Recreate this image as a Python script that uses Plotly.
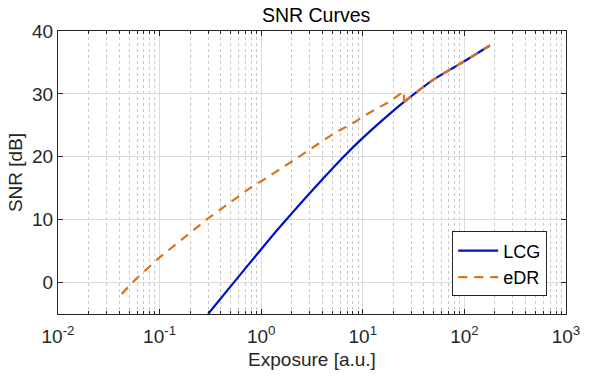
import plotly.graph_objects as go

# ---- data ----
lcg_exposure = [0.30, 0.50, 1.0, 1.48, 2.0, 3.0, 4.05, 6.3, 10, 19.9, 28.8, 50, 78.5, 100, 178]
lcg_snr = [-5.0, -0.6, 5.3, 8.6, 11.0, 14.2, 16.5, 19.8, 23.0, 27.3, 29.4, 32.3, 34.2, 35.2, 37.7]

# eDR: low-exposure branch (up to the switch point) and high-exposure branch
edr_low_exposure = [0.0424, 0.058, 0.10, 0.177, 0.30, 0.836, 1.0, 2.07, 5.06, 8.5, 10, 18.0, 25.4]
edr_low_snr = [-1.8, 0.5, 4.0, 7.2, 10.2, 15.4, 16.1, 19.4, 23.6, 25.6, 26.4, 28.7, 30.4]
edr_high_exposure = [25.4, 28.8, 50, 78.5, 100, 178]
edr_high_snr = [28.7, 29.4, 32.3, 34.2, 35.2, 37.7]

x_tick_vals = [0.01, 0.1, 1, 10, 100, 1000]
x_tick_text = ["10<sup>-2</sup>", "10<sup>-1</sup>", "10<sup>0</sup>",
               "10<sup>1</sup>", "10<sup>2</sup>", "10<sup>3</sup>"]
y_tick_vals = [0, 10, 20, 30, 40]

x_minor_vals = [m * 10 ** e for e in range(-2, 3) for m in range(2, 10)]

FONT = "Liberation Sans, Arial, sans-serif"
AX = "#262626"
ORANGE = "#D9731E"

fig = go.Figure()
fig.add_trace(go.Scatter(x=lcg_exposure, y=lcg_snr, mode="lines", name="LCG",
                         line=dict(color="#0010C8", width=2.2, shape="spline", smoothing=0.6)))
fig.add_trace(go.Scatter(x=edr_low_exposure + edr_high_exposure[:1],
                         y=edr_low_snr + edr_high_snr[:1], mode="lines", name="eDR",
                         legendgroup="edr",
                         line=dict(color=ORANGE, width=2.2, dash="9px,7px")))
fig.add_trace(go.Scatter(x=edr_high_exposure, y=edr_high_snr, mode="lines", name="eDR",
                         legendgroup="edr", showlegend=False,
                         line=dict(color=ORANGE, width=2.2, dash="9px,7px",
                                   shape="spline", smoothing=0.6)))

fig.update_layout(
    width=592, height=378,
    margin=dict(l=58, r=18, t=31, b=61),
    paper_bgcolor="white", plot_bgcolor="white",
    font=dict(family=FONT, size=18, color=AX),
    title=dict(text="SNR Curves", x=0.534, xanchor="center", y=0.978, yanchor="top",
               font=dict(family=FONT, size=19.5, color="black")),
    legend=dict(x=0.963, xanchor="right", y=0.062, yanchor="bottom",
                bgcolor="white", bordercolor="#262626", borderwidth=1,
                font=dict(family=FONT, size=18, color="black"),
                tracegroupgap=0, itemwidth=40),
    showlegend=True,
)

fig.update_xaxes(
    type="log", range=[-2, 3],
    tickmode="array", tickvals=x_tick_vals, ticktext=x_tick_text,
    ticks="inside", ticklen=5, tickcolor=AX, tickwidth=1,
    showline=True, linecolor=AX, linewidth=1, mirror="ticks",
    showgrid=True, gridcolor="#DCDCDC", gridwidth=1,
    minor=dict(tickmode="array", tickvals=x_minor_vals, ticks="inside", ticklen=3,
               tickcolor=AX, showgrid=True, gridcolor="#C8C8C8", griddash="dot", gridwidth=1),
    title=dict(text="Exposure [a.u.]", font=dict(family=FONT, size=19, color=AX), standoff=6),
    tickfont=dict(family=FONT, size=19, color=AX),
    ticklabelstandoff=5,
    zeroline=False,
)
fig.update_yaxes(
    range=[-5, 40],
    tickmode="array", tickvals=y_tick_vals,
    ticks="inside", ticklen=5, tickcolor=AX, tickwidth=1,
    showline=True, linecolor=AX, linewidth=1, mirror="ticks",
    showgrid=True, gridcolor="#DCDCDC", gridwidth=1,
    title=dict(text="SNR [dB]", font=dict(family=FONT, size=19, color=AX), standoff=4),
    tickfont=dict(family=FONT, size=19, color=AX),
    zeroline=False,
)

fig.write_html("out.html")
